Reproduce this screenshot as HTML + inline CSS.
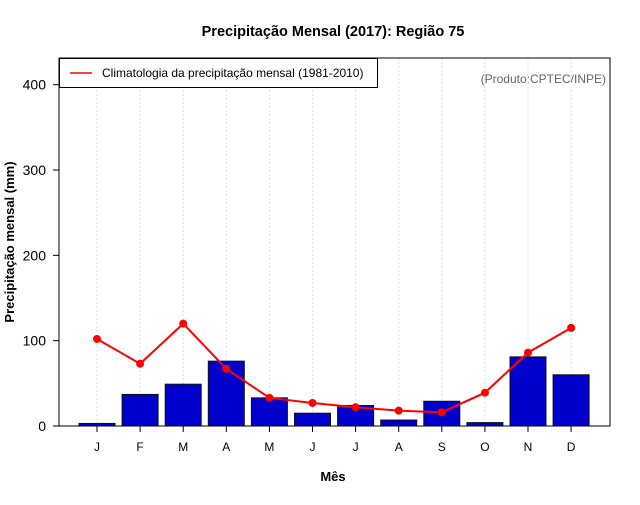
<!DOCTYPE html>
<html><head><meta charset="utf-8"><style>
body{margin:0;background:#fff;font-family:"Liberation Sans",sans-serif}
</style></head><body>
<svg width="640" height="500" id="chart" xmlns="http://www.w3.org/2000/svg" font-family="Liberation Sans, sans-serif">
<text x="333" y="36" text-anchor="middle" font-size="14.5" font-weight="bold">Precipitação Mensal (2017): Região 75</text>
<text x="333" y="481" text-anchor="middle" font-size="13" font-weight="bold">Mês</text>
<text transform="translate(14,242) rotate(-90)" text-anchor="middle" font-size="13" font-weight="bold">Precipitação mensal (mm)</text>
<text x="606" y="83" text-anchor="end" font-size="12" fill="#666">(Produto:CPTEC/INPE)</text>
<g id="grid"></g><g id="bars"></g><g id="line"></g><g id="axes"></g>
<rect x="59" y="58" width="551" height="368" fill="none" stroke="#000" stroke-width="1"/>
<g>
<rect x="59.5" y="58.5" width="318" height="29" fill="#fff" stroke="#000"/>
<line x1="70" y1="73" x2="92" y2="73" stroke="red" stroke-width="1.5"/>
<text x="102" y="77" font-size="12">Climatologia da precipitação mensal (1981-2010)</text>
</g>
</svg>
<script>
const months=["J","F","M","A","M","J","J","A","S","O","N","D"];
const observed=[3,37,49,76,33,15,24,7,29,4,81,60];
const climatology=[102,73,120,67,33,27,22,18,16,39,86,115];
const yTicks=[0,100,200,300,400];
const NS="http://www.w3.org/2000/svg";
const x=i=>97+i*43.1;
const y=v=>426-v*0.8533;
function mk(tag,attrs,parent){const e=document.createElementNS(NS,tag);for(const k in attrs)e.setAttribute(k,attrs[k]);document.getElementById(parent).appendChild(e);return e;}
months.forEach((m,i)=>{
 let g=mk('line',{x1:x(i),x2:x(i),y1:58,y2:426,stroke:'#ddd','stroke-dasharray':'2,2'},'grid');
 
 
 let b=mk('rect',{x:x(i)-18,y:y(observed[i]),width:36,height:observed[i]*0.8533,fill:'#0000CD',stroke:'#111','stroke-width':1},'bars');
 
 
 let t=mk('line',{x1:x(i),x2:x(i),y1:426,y2:432,stroke:'#000'},'axes');
 
 
 let l=mk('text',{x:x(i),y:451,'text-anchor':'middle','font-size':12},'axes');l.textContent=m;
 
 
});
let pts=climatology.map((v,i)=>x(i)+','+y(v)).join(' ');
let pl=mk('polyline',{points:pts,fill:'none',stroke:'red','stroke-width':2},'line');


climatology.forEach((v,i)=>{
 let c=mk('circle',{cx:x(i),cy:y(v),r:4,fill:'red'},'line');
 
 
});
yTicks.forEach(v=>{
 let t=mk('line',{x1:53,x2:59,y1:y(v),y2:y(v),stroke:'#000'},'axes');
 
 
 let l=mk('text',{x:46,y:y(v)+5,'text-anchor':'end','font-size':14},'axes');l.textContent=v;
 
 
});
</script>
</body></html>
